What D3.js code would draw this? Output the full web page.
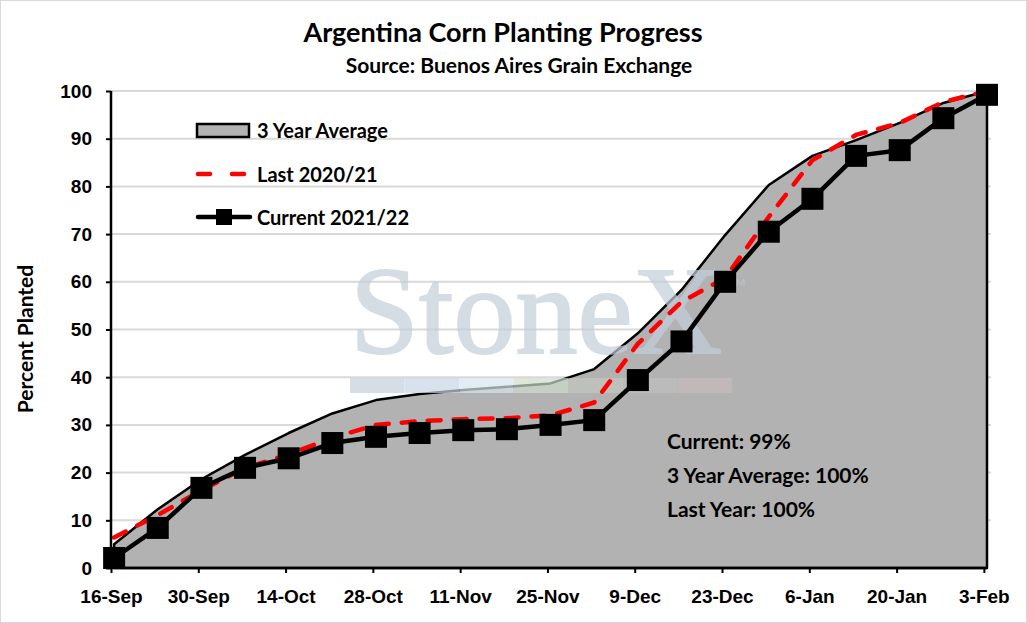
<!DOCTYPE html>
<html>
<head>
<meta charset="utf-8">
<script src="https://cdn.jsdelivr.net/npm/d3@7"></script>
<style>
  body { margin: 0; background: #fff; }
  svg { display: block; font-family: Lato, "Open Sans", sans-serif; }
  .tick text { font-weight: bold; font-size: 19px; fill: #000; }
</style>
</head>
<body>
<div id="chart"></div>
<script>
// weekly report dates
var weeks = ["2021-09-16", "2021-09-23", "2021-09-30", "2021-10-07", "2021-10-14", "2021-10-21",
  "2021-10-28", "2021-11-04", "2021-11-11", "2021-11-18", "2021-11-25", "2021-12-02",
  "2021-12-09", "2021-12-16", "2021-12-23", "2021-12-30", "2022-01-06", "2022-01-13",
  "2022-01-20", "2022-01-27", "2022-02-03"];

var avg3yr = [5.0, 12.3, 18.6, 23.7, 28.3, 32.4, 35.2, 36.5, 37.3, 38.0, 38.7, 41.7,
  49.2, 58.3, 69.8, 80.3, 86.4, 89.7, 93.3, 97.5, 100];
var last2021 = [6.4, 11.1, 16.3, 21.0, 23.8, 27.3, 30.0, 30.8, 31.2, 31.4, 32.0, 34.7,
  47.0, 55.8, 60.8, 73.6, 85.5, 90.8, 93.3, 97.7, 100];
var current2122 = [2.1, 8.4, 16.8, 21.0, 23.0, 26.2, 27.5, 28.3, 28.9, 29.1, 30.0, 31.0,
  39.4, 47.5, 60.0, 70.5, 77.4, 86.4, 87.6, 94.3, 99.2];

var yTicks = [0, 10, 20, 30, 40, 50, 60, 70, 80, 90, 100];
var notes = ["Current: 99%", "3 Year Average: 100%", "Last Year: 100%"];
var legendLabels = ["3 Year Average", "Last 2020/21", "Current 2021/22"];

var W = 1027, H = 623;
var plotLeft = 111, plotRight = 987, plotTop = 91, plotBottom = 568;

var parse = d3.timeParse("%Y-%m-%d");
// points sit half a day after the tick date (Excel date axis)
var rows = weeks.map(function(w, i) {
  return {
    date: d3.timeHour.offset(parse(w), 12),
    avg: avg3yr[i],
    last: last2021[i],
    cur: current2122[i]
  };
});

var svg = d3.select("#chart").append("svg")
  .attr("width", W)
  .attr("height", H);

svg.append("rect")
  .attr("x", 0.5).attr("y", 0.5)
  .attr("width", W - 1).attr("height", H - 1)
  .attr("fill", "#fff")
  .attr("stroke", "#d9d9d9");

var x = d3.scaleTime()
  .domain([parse(weeks[0]), d3.timeHour.offset(parse(weeks[weeks.length - 1]), 12)])
  .range([plotLeft, plotRight]);

var y = d3.scaleLinear()
  .domain([0, 100])
  .range([plotBottom, plotTop]);

// gridlines
svg.append("g")
  .selectAll("line")
  .data(yTicks.slice(1))
  .enter()
  .append("line")
  .attr("x1", plotLeft)
  .attr("x2", plotRight + 4)
  .attr("y1", function(d) { return y(d); })
  .attr("y2", function(d) { return y(d); })
  .attr("stroke", "#d9d9d9")
  .attr("stroke-width", 2);

// 3 year average area
var area = d3.area()
  .x(function(d) { return x(d.date); })
  .y0(y(0))
  .y1(function(d) { return y(d.avg); });

svg.append("path")
  .datum(rows)
  .attr("d", area)
  .attr("fill", "#b2b2b2")
  .attr("stroke", "#000")
  .attr("stroke-width", 2.5)
  .attr("stroke-linejoin", "round");

// watermark
var wm = svg.append("g").attr("class", "watermark").style("opacity", 0.7);
wm.append("text")
  .attr("x", 350)
  .attr("y", 353)
  .attr("font-family", "'Liberation Serif', 'DejaVu Serif', serif")
  .attr("font-size", 124)
  .attr("fill", "#c3ceda")
  .attr("stroke", "#c3ceda")
  .attr("stroke-width", 2)
  .text("StoneX");
wm.append("text")
  .attr("x", 730)
  .attr("y", 286)
  .attr("font-size", 10)
  .attr("fill", "#c3ceda")
  .text("TM");
var stripeColors = ["#c4cfdb", "#c8d6e4", "#d5e5ee", "#cfdccb", "#c4c8c0", "#c0c0c0", "#c8bcbc"];
wm.selectAll("rect")
  .data(stripeColors)
  .enter()
  .append("rect")
  .attr("x", function(d, i) { return 350 + i * 54.6; })
  .attr("y", 378)
  .attr("width", 54.6)
  .attr("height", 15)
  .attr("fill", function(d) { return d; });

// last year dashed line
var lineLast = d3.line()
  .x(function(d) { return x(d.date); })
  .y(function(d) { return y(d.last); });

svg.append("path")
  .datum(rows)
  .attr("d", lineLast)
  .attr("fill", "none")
  .attr("stroke", "#ff0000")
  .attr("stroke-width", 4.5)
  .attr("stroke-linecap", "round")
  .attr("stroke-dasharray", "13,13");

// current line with square markers
var lineCur = d3.line()
  .x(function(d) { return x(d.date); })
  .y(function(d) { return y(d.cur); });

svg.append("path")
  .datum(rows)
  .attr("d", lineCur)
  .attr("fill", "none")
  .attr("stroke", "#000")
  .attr("stroke-width", 4.5)
  .attr("stroke-linejoin", "round");

var mk = 22;
svg.append("g")
  .selectAll("rect")
  .data(rows)
  .enter()
  .append("rect")
  .attr("x", function(d) { return x(d.date) - mk / 2; })
  .attr("y", function(d) { return y(d.cur) - mk / 2; })
  .attr("width", mk)
  .attr("height", mk)
  .attr("fill", "#000");

// axes
var xAxis = d3.axisBottom(x)
  .tickValues(weeks.filter(function(w, i) { return i % 2 === 0; }).map(parse))
  .tickFormat(d3.timeFormat("%-d-%b"))
  .tickSize(5)
  .tickPadding(17);

var gx = svg.append("g")
  .attr("transform", "translate(0," + plotBottom + ")")
  .call(xAxis);
gx.select(".domain").attr("stroke", "#000").attr("stroke-width", 2.5)
  .attr("d", "M" + plotLeft + ",0H" + plotRight);
gx.selectAll(".tick line").attr("stroke", "#000").attr("stroke-width", 2);

var yAxis = d3.axisLeft(y)
  .tickValues(yTicks)
  .tickSize(5)
  .tickPadding(14);

var gy = svg.append("g")
  .attr("transform", "translate(" + plotLeft + ",0)")
  .call(yAxis);
gy.select(".domain").attr("stroke", "#000").attr("stroke-width", 2.5)
  .attr("d", "M0," + plotBottom + "V" + plotTop);
gy.selectAll(".tick line").attr("stroke", "#000").attr("stroke-width", 2);

// titles
svg.append("text")
  .attr("x", 503)
  .attr("y", 42)
  .attr("text-anchor", "middle")
  .attr("font-weight", "bold")
  .attr("font-size", 27)
  .text("Argentina Corn Planting Progress");

svg.append("text")
  .attr("x", 519)
  .attr("y", 73)
  .attr("text-anchor", "middle")
  .attr("font-weight", "bold")
  .attr("font-size", 21)
  .text("Source: Buenos Aires Grain Exchange");

svg.append("text")
  .attr("transform", "translate(33,339) rotate(-90)")
  .attr("text-anchor", "middle")
  .attr("font-weight", "bold")
  .attr("font-size", 21)
  .text("Percent Planted");

// legend
var lg = svg.append("g").attr("class", "legend");
lg.append("rect")
  .attr("x", 197).attr("y", 124)
  .attr("width", 52).attr("height", 13)
  .attr("fill", "#b2b2b2")
  .attr("stroke", "#000")
  .attr("stroke-width", 2.5);
lg.append("line")
  .attr("x1", 198).attr("x2", 248)
  .attr("y1", 174).attr("y2", 174)
  .attr("stroke", "#ff0000")
  .attr("stroke-width", 4.5)
  .attr("stroke-linecap", "round")
  .attr("stroke-dasharray", "12,22");
lg.append("line")
  .attr("x1", 198).attr("x2", 250)
  .attr("y1", 217).attr("y2", 217)
  .attr("stroke", "#000")
  .attr("stroke-width", 4.5)
  .attr("stroke-linecap", "round");
lg.append("rect")
  .attr("x", 216).attr("y", 209)
  .attr("width", 16).attr("height", 16)
  .attr("fill", "#000");
lg.selectAll("text")
  .data(legendLabels)
  .enter()
  .append("text")
  .attr("x", 257)
  .attr("y", function(d, i) { return 138 + i * 43.5; })
  .attr("font-weight", "bold")
  .attr("font-size", 20)
  .text(function(d) { return d; });

// notes
svg.append("g")
  .selectAll("text")
  .data(notes)
  .enter()
  .append("text")
  .attr("x", 667)
  .attr("y", function(d, i) { return 449 + i * 34; })
  .attr("font-weight", "bold")
  .attr("font-size", 21)
  .text(function(d) { return d; });
</script>
</body>
</html>
